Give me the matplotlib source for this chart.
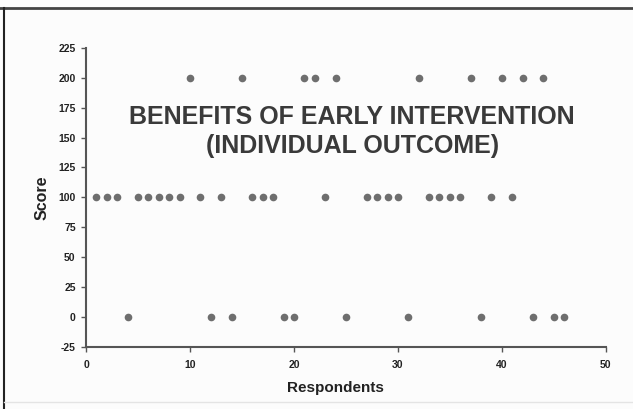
import matplotlib.pyplot as plt
from matplotlib.lines import Line2D

plt.rcParams['font.family'] = ['Liberation Sans', 'DejaVu Sans']
plt.rcParams['axes.unicode_minus'] = False

# respondent numbers grouped by score
score_200 = [10, 15, 21, 22, 24, 32, 37, 40, 42, 44]
score_100 = [1, 2, 3, 5, 6, 7, 8, 9, 11, 13, 16, 17, 18, 23, 27, 28, 29, 30,
             33, 34, 35, 36, 39, 41]
score_0 = [4, 12, 14, 19, 20, 25, 31, 38, 43, 45, 46]

respondents = score_200 + score_100 + score_0
scores = [200] * len(score_200) + [100] * len(score_100) + [0] * len(score_0)

yticks = list(range(-25, 226, 25))
xticks = [0, 10, 20, 30, 40, 50]

fig = plt.figure(figsize=(6.33, 4.09), dpi=100)
fig.patch.set_facecolor('#fcfcfc')
ax = fig.add_axes([0.136, 0.152, 0.821, 0.731])
ax.set_facecolor('#fcfcfc')

ax.plot(respondents, scores, 'o', color='#6e6e6e', markersize=5.5,
        markeredgewidth=0, clip_on=False)

ax.set_xlim(0, 50)
ax.set_ylim(-25, 225)
ax.set_xticks(xticks)
ax.set_yticks(yticks)
ax.tick_params(axis='both', labelsize=7.5, color='#555555', width=1,
               length=3.5, direction='out')
ax.tick_params(axis='x', pad=6)
ax.tick_params(axis='y', pad=4)
for lab in ax.get_xticklabels() + ax.get_yticklabels():
    lab.set_fontweight('bold')
    lab.set_color('#222222')

for s in ['top', 'right']:
    ax.spines[s].set_visible(False)
for s in ['left', 'bottom']:
    ax.spines[s].set_color('#555555')
    ax.spines[s].set_linewidth(1.5)

ax.set_xlabel('Respondents', fontsize=11, fontweight='bold', color='#222222')
ax.xaxis.set_label_coords(0.48, -0.115)
ax.set_ylabel('Score', fontsize=11.5, fontweight='bold', color='#222222',
              labelpad=6)

ax.text(25.6, 167, 'BENEFITS OF EARLY INTERVENTION', ha='center', va='center',
        fontsize=18, fontweight='bold', color='#3a3a3a')
ax.text(25.6, 143, '(INDIVIDUAL OUTCOME)', ha='center', va='center',
        fontsize=18, fontweight='bold', color='#3a3a3a')

# frame lines of the scanned page
fig.add_artist(Line2D([0, 1], [0.981, 0.981], color='#444444', lw=2))
fig.add_artist(Line2D([0.007, 0.007], [0, 0.981], color='#222222', lw=1.5))
fig.add_artist(Line2D([0.007, 1], [0.017, 0.017], color='#e4e4e4', lw=1))

fig.savefig('out.png', dpi=100, facecolor=fig.get_facecolor())
